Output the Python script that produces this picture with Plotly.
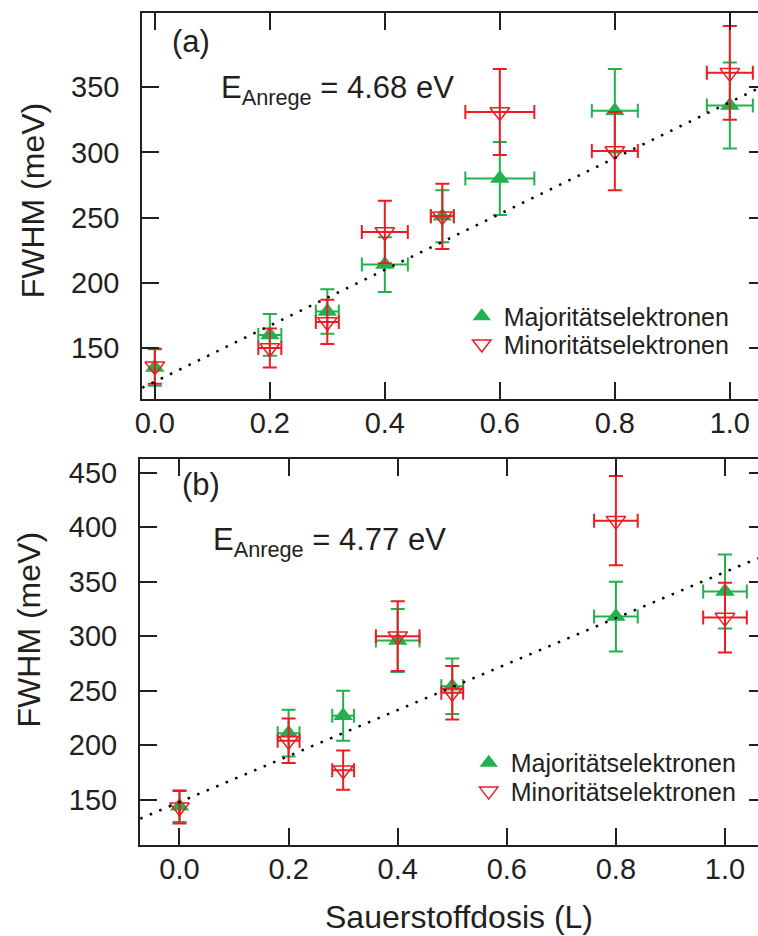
import plotly.graph_objects as go

# ---------------- data ----------------
dose_a = [0.0, 0.2, 0.3, 0.4, 0.5, 0.6, 0.8, 1.0]
maj_a = [135, 160, 178, 214, 251, 280, 332, 336]
maj_a_err = [14, 16, 17, 21, 20, 28, 32, 33]
maj_a_xerr = [0, 0.02, 0.02, 0.04, 0.02, 0.06, 0.04, 0.04]
min_a = [136, 150, 170, 239, 251, 331, 301, 361]
min_a_err = [13.5, 15, 17, 24, 25, 33, 30, 36]
min_a_xerr = [0, 0.02, 0.02, 0.04, 0.02, 0.06, 0.04, 0.04]
fit_a_x = [-0.022, 1.049]
fit_a_y = [119.5, 349.0]

dose_b = [0.0, 0.2, 0.3, 0.4, 0.5, 0.8, 1.0]
maj_b = [144, 211, 227, 296, 254, 318, 341]
maj_b_err = [14.5, 21.5, 23, 29, 25.5, 32, 34]
maj_b_xerr = [0, 0.02, 0.02, 0.04, 0.02, 0.04, 0.04]
min_b = [143, 204, 177, 300, 248, 406, 317]
min_b_err = [15, 20.5, 18, 32, 24.5, 41, 32]
min_b_xerr = [0, 0.02, 0.02, 0.04, 0.02, 0.04, 0.04]
fit_b_x = [-0.072, 1.06]
fit_b_y = [132.5, 371.5]

x_ticks = [0.0, 0.2, 0.4, 0.6, 0.8, 1.0]
x_ticktext = ["0.0", "0.2", "0.4", "0.6", "0.8", "1.0"]
y_ticks_a = [150, 200, 250, 300, 350]
y_ticks_b = [150, 200, 250, 300, 350, 400, 450]

label_maj = "Majoritätselektronen"
label_min = "Minoritätselektronen"
y_title = "FWHM (meV)"
x_title = "Sauerstoffdosis (L)"

# ---------------- style ----------------
W, H = 758, 936
GREEN = "#22B14C"
RED = "#ED1C24"
INK = "#231F20"
FONT = "Liberation Sans, Arial, Helvetica, sans-serif"
MS = 17


def px(v):
    return v / W


def py(v):
    return 1 - v / H


fig = go.Figure()


def add_panel(xs, maj, maj_e, maj_xe, mn, mn_e, mn_xe, fx, fy, xa, ya, ya_over, lg_maj, lg_min):
    fig.add_trace(go.Scatter(
        x=xs, y=maj, mode="markers", name=label_maj, legend=lg_maj,
        xaxis=xa, yaxis=ya,
        marker=dict(symbol="triangle-up", size=MS, color=GREEN, line=dict(width=0)),
        error_y=dict(type="data", array=maj_e, color=GREEN, thickness=2, width=7),
        error_x=dict(type="data", array=maj_xe, color=GREEN, thickness=2, width=7),
    ))
    fig.add_trace(go.Scatter(
        x=xs, y=mn, mode="markers", name=label_min, legend=lg_min,
        xaxis=xa, yaxis=ya,
        marker=dict(symbol="triangle-down-open", size=MS, color=RED, line=dict(width=1.5, color=RED)),
        error_y=dict(type="data", array=mn_e, color=RED, thickness=2, width=7),
        error_x=dict(type="data", array=mn_xe, color=RED, thickness=2, width=7),
    ))
    fig.add_trace(go.Scatter(
        x=fx, y=fy, mode="lines", showlegend=False,
        xaxis=xa, yaxis=ya_over,
        line=dict(color="black", width=2.5, dash="2.5px,7.8px"),
        hoverinfo="skip",
    ))


add_panel(dose_a, maj_a, maj_a_err, maj_a_xerr, min_a, min_a_err, min_a_xerr,
          fit_a_x, fit_a_y, "x", "y", "y3", "legend", "legend2")
add_panel(dose_b, maj_b, maj_b_err, maj_b_xerr, min_b, min_b_err, min_b_xerr,
          fit_b_x, fit_b_y, "x2", "y2", "y4", "legend3", "legend4")

tickfont = dict(family=FONT, size=29, color=INK)
common_x = dict(tickvals=x_ticks, ticktext=x_ticktext, ticks="inside", ticklen=17,
                tickwidth=2, tickcolor=INK, showline=True, linewidth=2, linecolor=INK,
                mirror="ticks", showgrid=False, zeroline=False, tickfont=tickfont,
                ticklabelstandoff=-3)
common_y = dict(ticks="inside", ticklen=17, tickwidth=2, tickcolor=INK, showline=True,
                linewidth=2, linecolor=INK, showgrid=False, zeroline=False,
                tickfont=tickfont, ticklabelstandoff=15)
right_y = dict(ticks="inside", ticklen=9, tickwidth=2, tickcolor=INK, showline=False,
               showgrid=False, zeroline=False, showticklabels=False, side="right")

ya_rng = [111.0, 406.9]
yb_rng = [108.2, 462.8]


def lg(xl, row_center):
    return dict(x=px(xl), y=py(row_center - 22), xanchor="left", yanchor="top",
                bgcolor="rgba(0,0,0,0)", font=dict(family=FONT, size=25, color=INK),
                itemwidth=34, itemsizing="trace")


fig.update_layout(
    width=W, height=H,
    margin=dict(l=0, r=0, t=0, b=0),
    paper_bgcolor="white", plot_bgcolor="white",
    font=dict(family=FONT, color=INK),
    xaxis=dict(domain=[px(136.5), 1], range=[-0.0219, 1.049], anchor="y", **common_x),
    yaxis=dict(domain=[py(397.7), py(11)], range=ya_rng, anchor="x", tickvals=y_ticks_a, **common_y),
    yaxis3=dict(overlaying="y", anchor="x", range=ya_rng, tickvals=y_ticks_a, **right_y),
    xaxis2=dict(domain=[px(134.3), 1], range=[-0.0723, 1.0605], anchor="y2", **common_x),
    yaxis2=dict(domain=[py(845), py(457.7)], range=yb_rng, anchor="x2", tickvals=y_ticks_b, **common_y),
    yaxis4=dict(overlaying="y2", anchor="x2", range=yb_rng, tickvals=y_ticks_b, **right_y),
    legend=lg(457, 314),
    legend2=lg(457, 342),
    legend3=lg(464, 761.5),
    legend4=lg(464, 790),
    showlegend=True,
)

ann = []
ann.append(dict(text=y_title, x=px(26), y=py(199), xref="paper", yref="paper",
                textangle=-90, showarrow=False, font=dict(family=FONT, size=32, color=INK),
                xanchor="center", yanchor="middle"))
ann.append(dict(text=y_title, x=px(22), y=py(629), xref="paper", yref="paper",
                textangle=-90, showarrow=False, font=dict(family=FONT, size=32, color=INK),
                xanchor="center", yanchor="middle"))
ann.append(dict(text=x_title, x=px(456.5), y=py(916.7), xref="paper", yref="paper",
                showarrow=False, font=dict(family=FONT, size=32, color=INK),
                xanchor="center", yanchor="middle"))
ann.append(dict(text="(a)", x=px(186), y=py(40), xref="paper", yref="paper",
                showarrow=False, font=dict(family=FONT, size=31, color=INK),
                xanchor="center", yanchor="middle"))
ann.append(dict(text="(b)", x=px(195.5), y=py(484), xref="paper", yref="paper",
                showarrow=False, font=dict(family=FONT, size=31, color=INK),
                xanchor="center", yanchor="middle"))
ann.append(dict(text="E<sub>Anrege</sub> = 4.68 eV", x=px(214), y=py(88), xref="paper", yref="paper",
                showarrow=False, font=dict(family=FONT, size=31, color=INK),
                xanchor="left", yanchor="middle"))
ann.append(dict(text="E<sub>Anrege</sub> = 4.77 eV", x=px(206), y=py(541), xref="paper", yref="paper",
                showarrow=False, font=dict(family=FONT, size=31, color=INK),
                xanchor="left", yanchor="middle"))
fig.update_layout(annotations=ann)

fig.write_html("out.html")
